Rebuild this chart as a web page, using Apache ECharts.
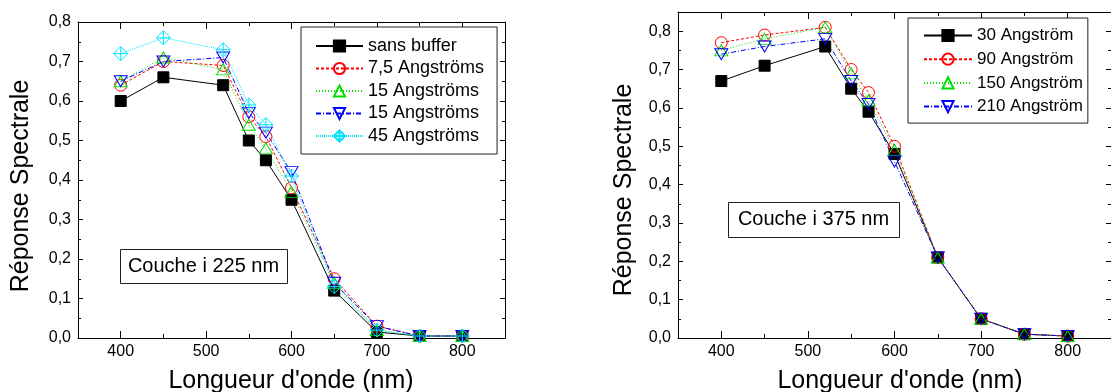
<!DOCTYPE html>
<html lang="fr">
<head>
    <meta charset="UTF-8">
    <title>Réponse Spectrale</title>
    <script src="https://cdn.jsdelivr.net/npm/echarts@6/dist/echarts.min.js"></script>
    <style>
        html, body { margin: 0; padding: 0; background: #fff; }
        #main { width: 1111px; height: 392px; }
    </style>
</head>
<body>
<div id="main"></div>
<script type="text/javascript">
    // longueurs d'onde (nm)
    var wavelengths = [400, 450, 520, 550, 570, 600, 650, 700, 750, 800];

    // couche i 225 nm
    var leftNames = ['sans buffer', '7,5 Angströms', '15 Angströms', '15 Angströms ', '45 Angströms'];
    var sansBuffer = [0.60, 0.66, 0.64, 0.50, 0.45, 0.35, 0.12, 0.015, 0.005, 0.005];
    var ang75 = [0.64, 0.70, 0.69, 0.56, 0.51, 0.38, 0.15, 0.03, 0.005, 0.005];
    var ang15a = [0.65, 0.71, 0.68, 0.54, 0.48, 0.37, 0.14, 0.02, 0.005, 0.005];
    var ang15b = [0.65, 0.70, 0.71, 0.57, 0.52, 0.42, 0.14, 0.03, 0.005, 0.005];
    var ang45 = [0.72, 0.76, 0.73, 0.59, 0.54, 0.41, 0.13, 0.02, 0.005, 0.005];

    // couche i 375 nm
    var rightNames = ['30 Angström', '90 Angström', '150 Angström', '210 Angström'];
    var ang30 = [0.67, 0.71, 0.76, 0.65, 0.59, 0.48, 0.21, 0.05, 0.01, 0.005];
    var ang90 = [0.77, 0.79, 0.81, 0.70, 0.64, 0.50, 0.21, 0.05, 0.01, 0.005];
    var ang150 = [0.75, 0.78, 0.81, 0.69, 0.62, 0.49, 0.21, 0.05, 0.01, 0.005];
    var ang210 = [0.74, 0.76, 0.78, 0.67, 0.61, 0.46, 0.21, 0.05, 0.01, 0.005];

    var FONT = 'Liberation Sans, Arial, Helvetica, sans-serif';

    var SYM_UP = 'path://M10,0L20,17.3L0,17.3Z';
    var SYM_DOWN = 'path://M0,0L20,0L10,17.3Z';
    var SYM_DIAM = 'path://M10,0L20,10L10,20L0,10Z M10,0L10,20 M0,10L20,10';

    // style de chaque courbe : couleur, trait, symbole
    var styles = [
        { color: '#000000', dash: 'solid', symbol: 'rect', size: 11, fill: '#000000' },
        { color: '#ff0000', dash: [3, 2], symbol: 'circle', size: 12, fill: 'transparent' },
        { color: '#00e000', dash: [1, 2], symbol: SYM_UP, size: [13, 11], fill: 'transparent' },
        { color: '#0000ff', dash: [5, 2, 1, 2], symbol: SYM_DOWN, size: [13, 11], fill: 'transparent' },
        { color: '#00e5ff', dash: [1, 1], symbol: SYM_DIAM, size: 14, fill: 'transparent' }
    ];

    function makeSeries(name, values, st, idx) {
        return {
            name: name,
            type: 'line',
            xAxisIndex: idx * 2,
            yAxisIndex: idx * 2,
            data: wavelengths.map(function (w, i) { return [w, values[i]]; }),
            symbol: st.symbol,
            symbolSize: st.size,
            showAllSymbol: true,
            animation: false,
            lineStyle: { color: st.color, width: 1, type: st.dash },
            itemStyle: { color: st.fill, borderColor: st.color, borderWidth: 1 },
            emphasis: { disabled: true }
        };
    }

    function fmtY(v) { return v.toFixed(1).replace('.', ','); }

    function xAxes(gridIndex) {
        var base = {
            type: 'value', gridIndex: gridIndex, min: 350, max: 850, splitNumber: 5,
            splitLine: { show: false },
            axisLine: { show: true, onZero: false, lineStyle: { color: '#000', width: 1 } },
            axisTick: { show: true, inside: true, length: 7, lineStyle: { color: '#000' } },
            minorTick: { show: true, splitNumber: 2, length: 4, lineStyle: { color: '#000' } }
        };
        var bottom = Object.assign({}, base, {
            position: 'bottom',
            axisLabel: { show: true, margin: 6, color: '#000', fontSize: 16, fontFamily: FONT, showMinLabel: false, showMaxLabel: false }
        });
        var top = Object.assign({}, base, { position: 'top', axisLabel: { show: false } });
        return [bottom, top];
    }

    function yAxes(gridIndex, max) {
        var base = {
            type: 'value', gridIndex: gridIndex, min: 0, max: max, interval: 0.1,
            splitLine: { show: false },
            axisLine: { show: true, onZero: false, lineStyle: { color: '#000', width: 1 } },
            axisTick: { show: true, inside: true, length: 5, lineStyle: { color: '#000' } },
            minorTick: { show: true, splitNumber: 2, length: 3, lineStyle: { color: '#000' } }
        };
        var left = Object.assign({}, base, {
            position: 'left',
            axisLabel: { show: true, margin: 7, color: '#000', fontSize: 16, fontFamily: FONT, formatter: fmtY, showMaxLabel: max === 0.8 }
        });
        var right = Object.assign({}, base, { position: 'right', axisLabel: { show: false } });
        return [left, right];
    }

    var leftData = [sansBuffer, ang75, ang15a, ang15b, ang45];
    var rightData = [ang30, ang90, ang150, ang210];

    var series = [];
    leftNames.forEach(function (n, i) { series.push(makeSeries(n, leftData[i], styles[i], 0)); });
    rightNames.forEach(function (n, i) { series.push(makeSeries(n, rightData[i], styles[i], 1)); });

    function legendOf(names, left, top, fontSize, itemWidth, gap, padding) {
        return {
            data: names,
            orient: 'vertical',
            left: left,
            top: top,
            itemWidth: itemWidth,
            itemHeight: 14,
            itemGap: gap,
            itemTextGap: 6,
            padding: padding,
            borderColor: '#222',
            borderWidth: 1,
            backgroundColor: '#fff',
            selectedMode: false,
            formatter: function (name) { return name.trim(); },
            textStyle: { color: '#000', fontSize: fontSize, fontFamily: FONT }
        };
    }

    function boxedLabel(text, x, y, w, h) {
        return [
            { type: 'rect', left: x, top: y, shape: { width: w, height: h }, style: { fill: '#fff', stroke: '#222', lineWidth: 1 }, z: 100 },
            { type: 'text', x: x + w / 2, y: y + h / 2, style: { text: text, fill: '#000', fontSize: 20, fontFamily: FONT, align: 'center', verticalAlign: 'middle' }, z: 101 }
        ];
    }

    function title(text, x, y, rotated) {
        return {
            type: 'text', x: x, y: y, rotation: rotated ? Math.PI / 2 : 0,
            style: { text: text, fill: '#000', fontSize: 25, fontFamily: FONT, align: 'center', verticalAlign: 'middle' }
        };
    }

    var myChart = echarts.init(document.getElementById('main'), null, { renderer: 'canvas' });

    myChart.setOption({
        animation: false,
        backgroundColor: '#fff',
        grid: [
            { left: 78, top: 22, width: 427, height: 316 },
            { left: 678, top: 12, width: 438, height: 326 }
        ],
        xAxis: xAxes(0).concat(xAxes(1)),
        yAxis: yAxes(0, 0.8).concat(yAxes(1, 0.85)),
        legend: [
            legendOf(leftNames, 301, 27, 18, 47, 4.5, [10, 13, 9, 14]),
            legendOf(rightNames, 908, 18, 17, 48, 6.7, [9, 5, 8, 15])
        ],
        graphic: [].concat(
            boxedLabel('Couche i 225 nm', 120, 249, 167, 34),
            boxedLabel('Couche i 375 nm', 728, 202, 171, 35),
            [
                title("Longueur d'onde (nm)", 291, 381, false),
                title("Longueur d'onde (nm)", 900, 381, false),
                title('Réponse Spectrale', 21, 186, true),
                title('Réponse Spectrale', 624, 190, true)
            ]
        ),
        series: series
    });
</script>
</body>
</html>
